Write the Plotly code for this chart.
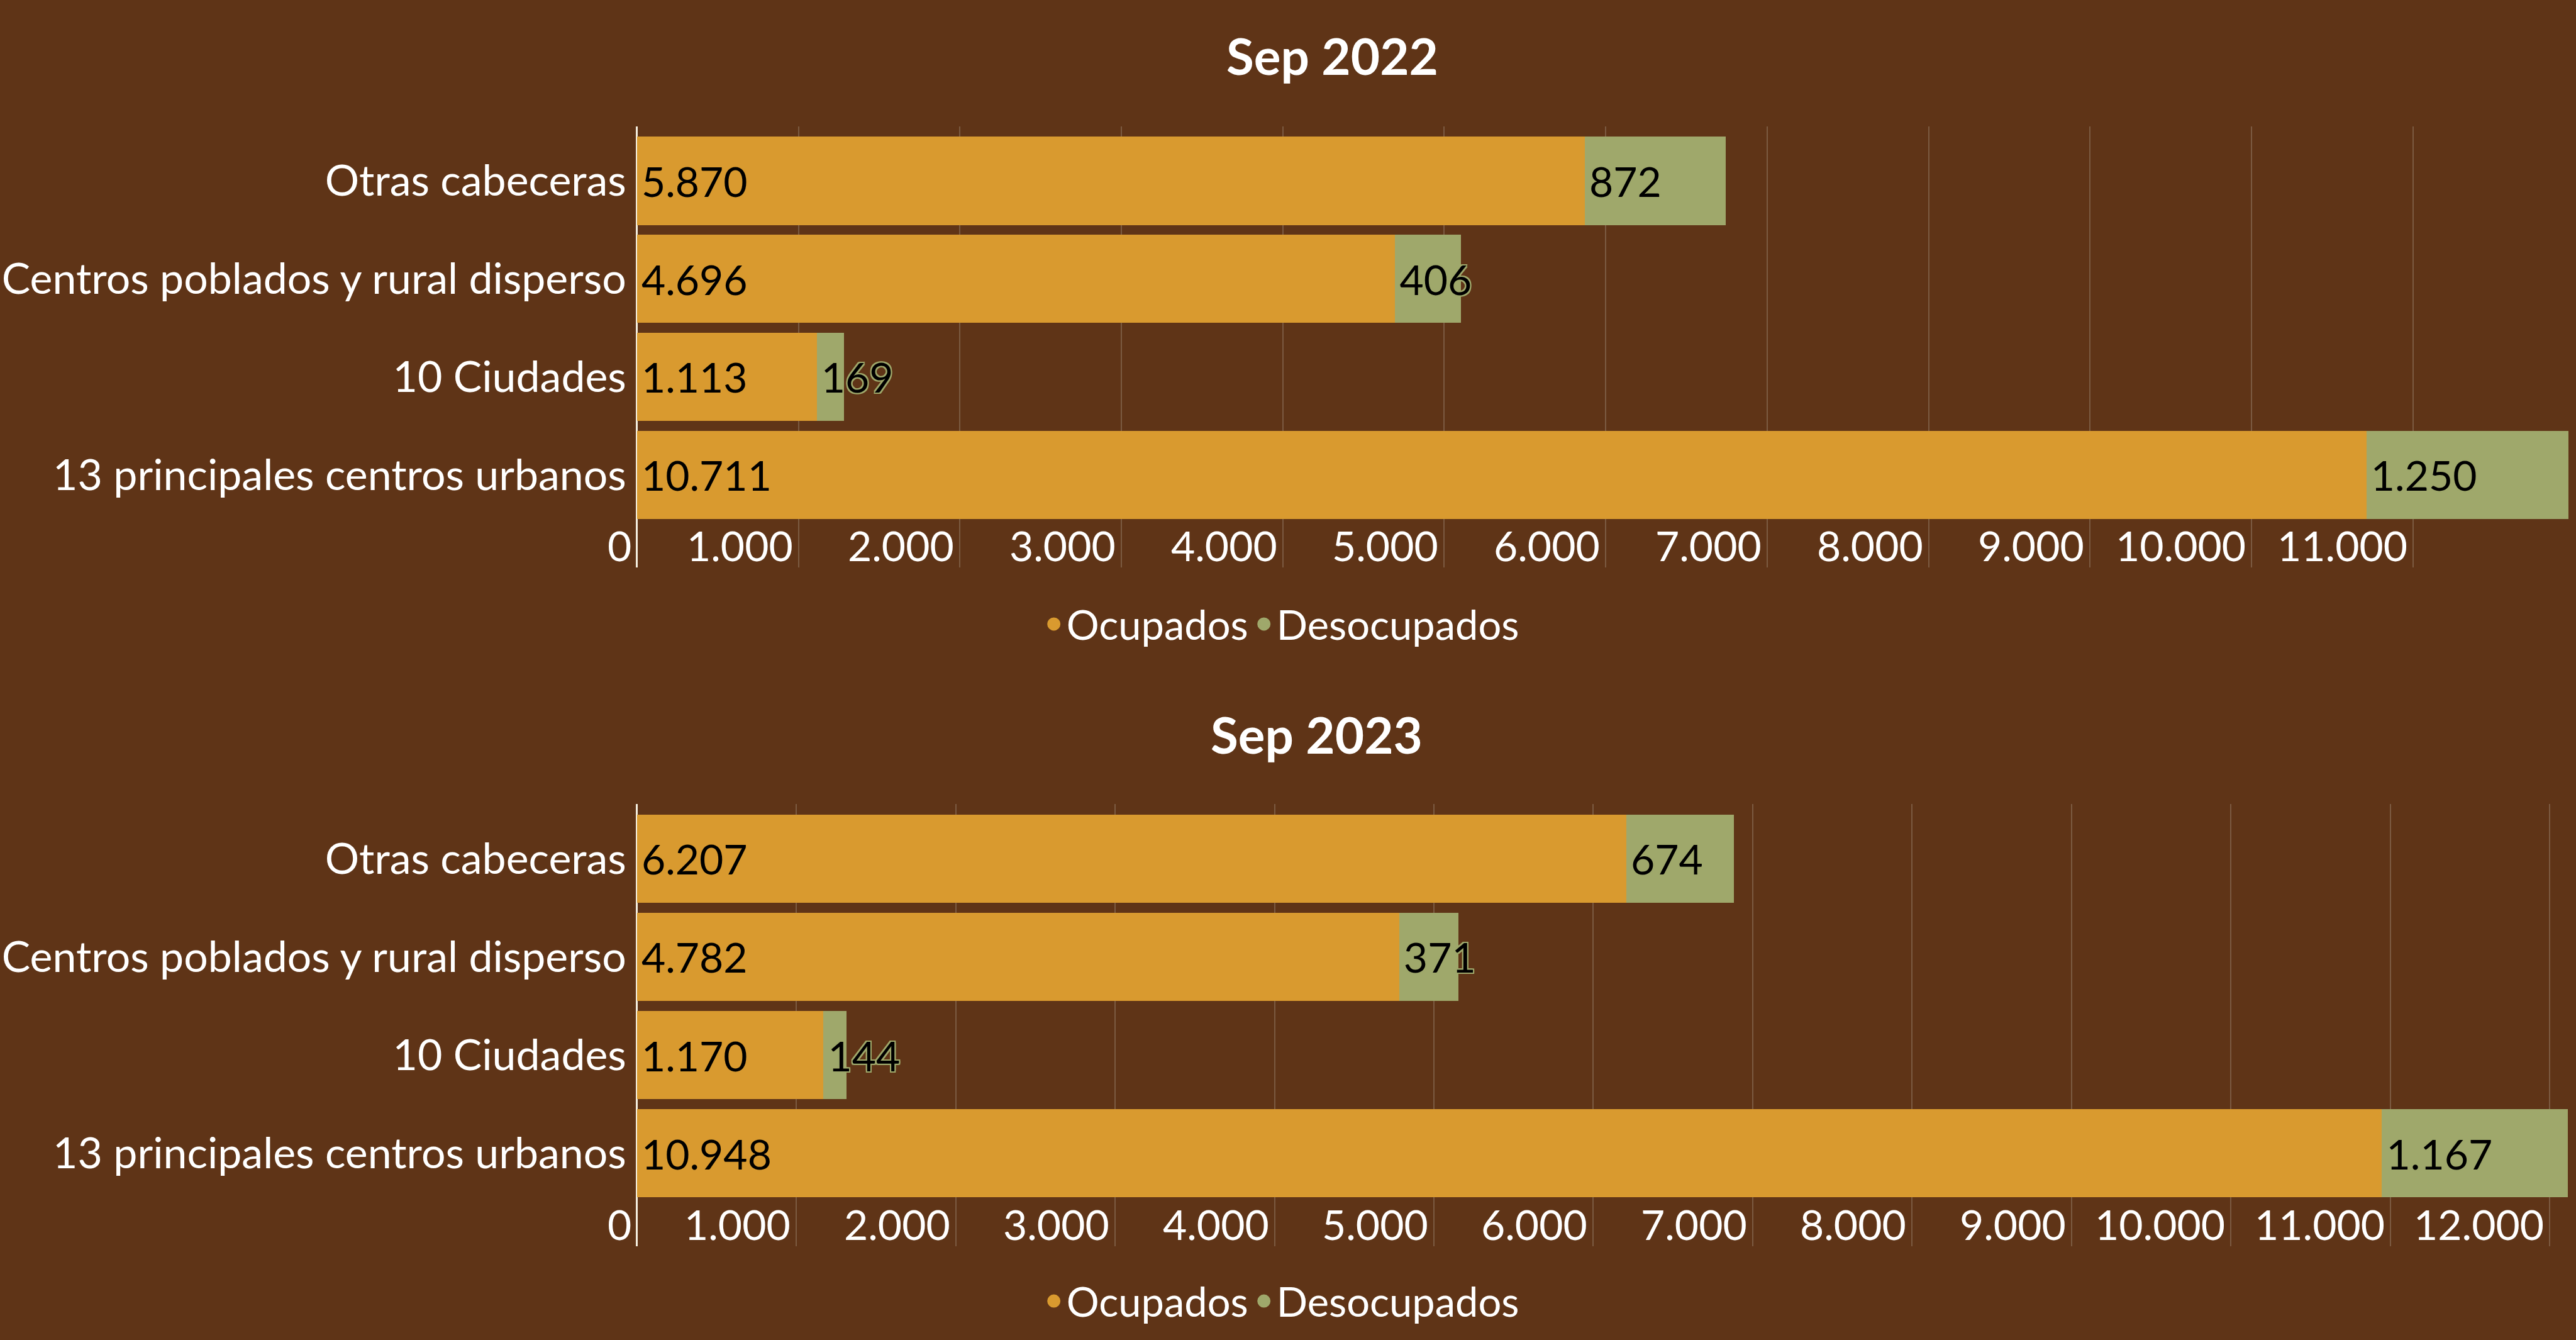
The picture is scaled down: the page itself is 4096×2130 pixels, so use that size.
import plotly.graph_objects as go

# ---------------- data ----------------
categories = ["13 principales centros urbanos", "10 Ciudades",
              "Centros poblados y rural disperso", "Otras cabeceras"]
series_names = ["Ocupados", "Desocupados"]
titles = ["Sep 2022", "Sep 2023"]

ocupados_2022 = [10711, 1113, 4696, 5870]
desocupados_2022 = [1250, 169, 406, 872]
ocupados_2023 = [10948, 1170, 4782, 6207]
desocupados_2023 = [1167, 144, 371, 674]

ticks_2022 = [0, 1000, 2000, 3000, 4000, 5000, 6000, 7000, 8000, 9000, 10000, 11000]
tick_labels_2022 = ["0", "1.000", "2.000", "3.000", "4.000", "5.000", "6.000",
                    "7.000", "8.000", "9.000", "10.000", "11.000"]
ticks_2023 = [0, 1000, 2000, 3000, 4000, 5000, 6000, 7000, 8000, 9000, 10000, 11000, 12000]
tick_labels_2023 = ["0", "1.000", "2.000", "3.000", "4.000", "5.000", "6.000",
                    "7.000", "8.000", "9.000", "10.000", "11.000", "12.000"]

# ---------------- style ----------------
W, H = 4096, 2130
BG = "#5F3417"
ORANGE = "#D99A2F"
GREEN = "#9FA86B"
GRID = "#7B5A41"
AXIS = "#F4EEDF"
FONT = "Lato"
F_NUM = 66     # data labels and tick labels
F_CAT = 68     # category labels
F_LEG = 65     # legend
F_TITLE = 80   # titles


def outline(c, w=2):
    offs = [(w, 0), (-w, 0), (0, w), (0, -w), (w, w), (-w, -w), (w, -w), (-w, w)]
    return ", ".join(f"{dx}px {dy}px 0 {c}" for dx, dy in offs)


fig = go.Figure()

panels = [
    dict(occ=ocupados_2022, des=desocupados_2022, xa="x", ya="y", lg="legend",
         ticks=ticks_2022, labels=tick_labels_2022),
    dict(occ=ocupados_2023, des=desocupados_2023, xa="x2", ya="y2", lg="legend2",
         ticks=ticks_2023, labels=tick_labels_2023),
]

for p in panels:
    for vals, col, name, shadow in [(p["occ"], ORANGE, series_names[0], "none"),
                                    (p["des"], GREEN, series_names[1], outline(GREEN))]:
        fig.add_trace(go.Bar(
            orientation="h", y=categories, x=vals, name=name,
            marker=dict(color=col, line=dict(width=0)), width=0.9,
            texttemplate="\u200a%{x:,.0f}", textposition="inside", insidetextanchor="start",
            constraintext="none", textangle=0,
            textfont=dict(color="black", size=F_NUM, family=FONT, shadow=shadow),
            showlegend=False, hoverinfo="skip",
            xaxis=p["xa"], yaxis=p["ya"],
        ))
    for col, name in [(ORANGE, series_names[0]), (GREEN, series_names[1])]:
        fig.add_trace(go.Scatter(
            x=[None], y=[None], mode="markers", name=name,
            marker=dict(symbol="circle", size=16, color=col, line=dict(width=5, color=col)),
            legend=p["lg"], xaxis=p["xa"], yaxis=p["ya"], showlegend=True,
        ))

annotations = []
for p in panels:
    for t, lab in zip(p["ticks"], p["labels"]):
        annotations.append(dict(
            xref=p["xa"], yref=p["ya"], x=t, y=-0.72, text=lab, showarrow=False,
            xanchor="right", yanchor="middle", xshift=-7,
            font=dict(color="white", size=F_NUM, family=FONT)))

annotations.append(dict(xref="paper", yref="paper", x=2370 / 4582, y=1 - 99 / 2383,
                        text="<b>" + titles[0] + "</b>", showarrow=False,
                        xanchor="center", yanchor="middle",
                        font=dict(color="white", size=F_TITLE, family=FONT)))
annotations.append(dict(xref="paper", yref="paper", x=2342 / 4582, y=1 - 1306 / 2383,
                        text="<b>" + titles[1] + "</b>", showarrow=False,
                        xanchor="center", yanchor="middle",
                        font=dict(color="white", size=F_TITLE, family=FONT)))

xdom = [1133 / 4582, 4575 / 4582]
yrange = [-0.945, 3.555]


def xaxis(rng, anchor):
    return dict(domain=xdom, range=rng, anchor=anchor, showgrid=True, gridcolor=GRID,
                gridwidth=1.5, dtick=1000, tick0=0, showticklabels=False, ticks="",
                zeroline=True, zerolinecolor=AXIS, zerolinewidth=3, showline=False,
                fixedrange=True)


def yaxis(dom, anchor):
    return dict(domain=dom, range=yrange, anchor=anchor, type="category",
                categoryorder="array", categoryarray=categories,
                showgrid=False, zeroline=False, showline=False, ticks="",
                ticklabelstandoff=16,
                tickfont=dict(color="white", size=F_CAT, family=FONT), fixedrange=True)


legend_common = dict(orientation="h", xanchor="center", yanchor="middle",
                     traceorder="normal",
                     bgcolor="rgba(0,0,0,0)", font=dict(color="white", size=F_LEG, family=FONT),
                     itemwidth=30, tracegroupgap=0)

fig.update_layout(
    width=W, height=H, autosize=False,
    margin=dict(l=0, r=0, t=0, b=0),
    paper_bgcolor=BG, plot_bgcolor=BG,
    barmode="stack", bargap=0.1,
    separators=",.",
    font=dict(family=FONT, color="white", size=F_NUM),
    xaxis=xaxis([0, 11985], "y"),
    yaxis=yaxis([1 - 1009 / 2383, 1 - 225 / 2383], "x"),
    xaxis2=xaxis([0, 12141], "y2"),
    yaxis2=yaxis([1 - 2216 / 2383, 1 - 1430 / 2383], "x2"),
    legend=dict(legend_common, x=2280 / 4582, y=1 - 1110 / 2383),
    legend2=dict(legend_common, x=2280 / 4582, y=1 - 2314 / 2383),
    annotations=annotations,
)

fig.write_html("out.html", config={"displayModeBar": False},
               post_script="document.body.style.margin='0';document.body.style.overflow='hidden';")
